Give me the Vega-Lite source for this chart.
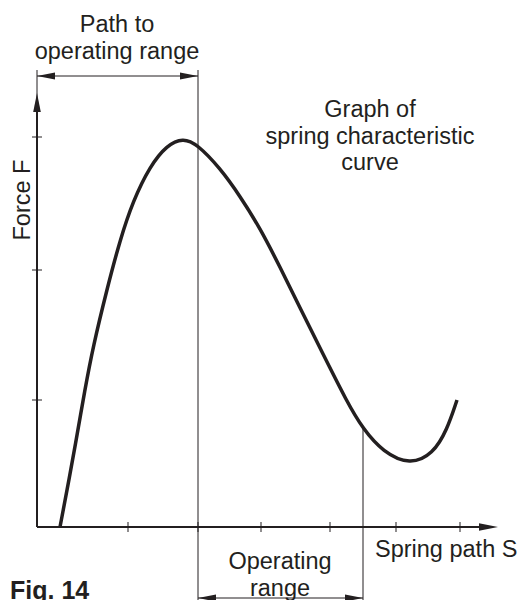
{
  "$schema": "https://vega.github.io/schema/vega-lite/v6.json",
  "width": 483,
  "height": 527,
  "autosize": "none",
  "padding": {"left": 37, "top": 0, "right": 0, "bottom": 73},
  "background": "white",
  "config": {"view": {"stroke": null}},
  "datasets": {
    "curve": [
      {"s": 23, "F": 0}, {"s": 31, "F": 42}, {"s": 38, "F": 80}, {"s": 48, "F": 138},
      {"s": 56, "F": 180}, {"s": 70, "F": 238}, {"s": 83, "F": 287}, {"s": 96, "F": 326},
      {"s": 113, "F": 361}, {"s": 130, "F": 382}, {"s": 146, "F": 389}, {"s": 160, "F": 383},
      {"s": 183, "F": 359}, {"s": 203, "F": 331}, {"s": 223, "F": 299}, {"s": 243, "F": 260},
      {"s": 263, "F": 219}, {"s": 286, "F": 173}, {"s": 310, "F": 125}, {"s": 326, "F": 98},
      {"s": 346, "F": 75}, {"s": 373, "F": 62}, {"s": 396, "F": 73}, {"s": 410, "F": 97},
      {"s": 420, "F": 127}
    ],
    "thinLines": [
      {"s": 161, "F": 457, "s2": 161, "F2": -73},
      {"s": 326, "F": 99, "s2": 326, "F2": -73},
      {"s": 0, "F": 457, "s2": 0, "F2": 400},
      {"s": 0, "F": 451, "s2": 161, "F2": 451},
      {"s": 161, "F": -71, "s2": 326, "F2": -71}
    ],
    "axisLines": [
      {"s": 0, "F": 0, "s2": 450, "F2": 0},
      {"s": 0, "F": 0, "s2": 0, "F2": 420}
    ],
    "xTicks": [{"s": 91, "F": 0}, {"s": 161, "F": 0}, {"s": 224, "F": 0}, {"s": 293, "F": 0}, {"s": 359, "F": 0}, {"s": 423, "F": 0}],
    "yTicks": [{"s": 0, "F": 127}, {"s": 0, "F": 257}, {"s": 0, "F": 390}],
    "arrowRight": [{"s": 161, "F": 451}, {"s": 326, "F": -71}],
    "arrowLeft": [{"s": 0, "F": 451}, {"s": 161, "F": -71}],
    "axisArrowRight": [{"s": 461, "F": 0}],
    "axisArrowUp": [{"s": 0, "F": 434}],
    "labelsCenter": [
      {"s": 80, "F": 495, "label": "Path to\noperating range"},
      {"s": 333, "F": 410, "label": "Graph of\nspring characteristic\ncurve"},
      {"s": 243, "F": -42, "label": "Operating\nrange"}
    ],
    "labelsLeft": [{"s": 338, "F": -30, "label": "Spring path S"}],
    "figLabel": [{"s": -27, "F": -72, "label": "Fig. 14"}],
    "yTitle": [{"s": -7, "F": 327, "label": "Force F"}]
  },
  "encoding": {
    "x": {"field": "s", "type": "quantitative", "scale": {"domain": [0, 483], "nice": false, "zero": false}, "axis": null},
    "y": {"field": "F", "type": "quantitative", "scale": {"domain": [0, 527], "nice": false, "zero": false}, "axis": null}
  },
  "layer": [
    {"data": {"name": "thinLines"}, "mark": {"type": "rule", "strokeWidth": 1, "color": "#231f20"},
     "encoding": {"x2": {"field": "s2"}, "y2": {"field": "F2"}}},
    {"data": {"name": "axisLines"}, "mark": {"type": "rule", "strokeWidth": 2, "color": "#231f20"},
     "encoding": {"x2": {"field": "s2"}, "y2": {"field": "F2"}}},
    {"data": {"name": "xTicks"}, "mark": {"type": "tick", "orient": "vertical", "size": 10, "thickness": 1, "color": "#231f20", "opacity": 1}},
    {"data": {"name": "yTicks"}, "mark": {"type": "tick", "orient": "horizontal", "size": 10, "thickness": 1, "color": "#231f20", "opacity": 1}},
    {"data": {"name": "curve"}, "mark": {"type": "line", "interpolate": "basis", "strokeWidth": 3.5, "color": "#231f20"}},
    {"data": {"name": "arrowRight"}, "mark": {"type": "point", "shape": "M0,0L-2,-0.4L-2,0.4Z", "size": 324, "filled": true, "opacity": 1, "color": "#231f20", "angle": 0}},
    {"data": {"name": "arrowLeft"}, "mark": {"type": "point", "shape": "M0,0L-2,-0.4L-2,0.4Z", "size": 324, "filled": true, "opacity": 1, "color": "#231f20", "angle": 180}},
    {"data": {"name": "axisArrowRight"}, "mark": {"type": "point", "shape": "M0,0L-2,-0.4L-2,0.4Z", "size": 361, "filled": true, "opacity": 1, "color": "#231f20", "angle": 0}},
    {"data": {"name": "axisArrowUp"}, "mark": {"type": "point", "shape": "M0,0L-2,-0.4L-2,0.4Z", "size": 361, "filled": true, "opacity": 1, "color": "#231f20", "angle": 270}},
    {"data": {"name": "labelsCenter"}, "mark": {"type": "text", "font": "Liberation Sans", "fontSize": 23.5, "align": "center", "baseline": "alphabetic", "lineBreak": "\n", "lineHeight": 26.5, "color": "#231f20"},
     "encoding": {"text": {"field": "label"}}},
    {"data": {"name": "labelsLeft"}, "mark": {"type": "text", "font": "Liberation Sans", "fontSize": 23.5, "align": "left", "baseline": "alphabetic", "color": "#231f20"},
     "encoding": {"text": {"field": "label"}}},
    {"data": {"name": "figLabel"}, "mark": {"type": "text", "font": "Liberation Sans", "fontSize": 25, "fontWeight": "bold", "align": "left", "baseline": "alphabetic", "color": "#231f20"},
     "encoding": {"text": {"field": "label"}}},
    {"data": {"name": "yTitle"}, "mark": {"type": "text", "font": "Liberation Sans", "fontSize": 23.5, "align": "center", "baseline": "alphabetic", "angle": 270, "color": "#231f20"},
     "encoding": {"text": {"field": "label"}}}
  ]
}
